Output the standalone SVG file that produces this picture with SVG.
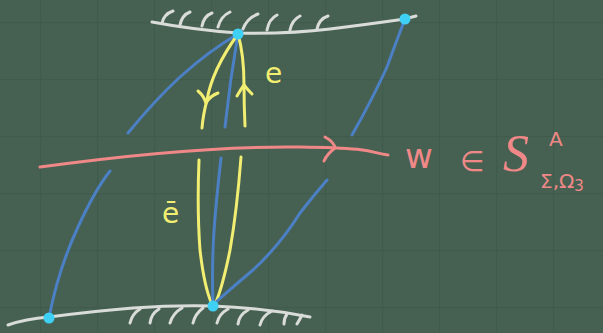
<svg xmlns="http://www.w3.org/2000/svg" width="603" height="333" viewBox="0 0 603 333">
<defs>
<pattern id="grid" x="40" y="22" width="57" height="57" patternUnits="userSpaceOnUse">
<path d="M0,0 V57 M0,0 H57" stroke="#405a4c" stroke-width="2.5" fill="none"/>
</pattern>
<style>
.gnd{fill:none;stroke:#d9dcd8;stroke-width:3;stroke-linecap:round;stroke-linejoin:round}
.blue{fill:none;stroke:#4c80c4;stroke-width:3;stroke-linecap:round;stroke-linejoin:round}
.yel{fill:none;stroke:#f2ee72;stroke-width:3;stroke-linecap:round;stroke-linejoin:round}
.pink{fill:none;stroke:#f08888;stroke-width:3;stroke-linecap:round;stroke-linejoin:round}
.node{fill:#3fd0f6}
.ty{fill:#f2ee72;font-family:"DejaVu Sans",sans-serif}
.tp{fill:#f08888;font-family:"DejaVu Sans",sans-serif}
</style>
</defs>
<rect width="603" height="333" fill="#466152"/>
<rect width="603" height="333" fill="url(#grid)"/>

<g id="top-wall">
<path class="gnd" d="M152,22 Q195,30 238,33 Q290,34 330,29 Q370,24 405,19 Q412,17 416,16"/>
<path class="gnd" d="M162,23 Q164,14 173,11 M180,25 Q182,15 190,12 M202,26 Q204,16 212,13 M218,27 Q221,16 230,12 M243,29 Q247,18 258,14 M267,30 Q269,19 277,15 M290,30 Q292,20 300,16 M317,29 Q319,19 328,16"/>
</g>

<g id="bottom-wall">
<path class="gnd" d="M8,325 Q25,319 49,317 Q95,311 133,308 Q175,305 213,306 Q265,308 310,317"/>
<path class="gnd" d="M140,309 Q132,314 130,323 M159,309 Q151,314 150,323 M182,308 Q173,313 170,323 M203,308 Q195,314 193,323 M228,309 Q219,314 217,323 M248,310 Q239,315 238,324 M272,311 Q262,316 260,325 M287,314 Q284,318 284,324 M302,315 Q300,319 297,324"/>
</g>

<g id="connectors">
<path class="blue" d="M238,34 Q210,50 180,77 Q155,100 128,133"/>
<path class="blue" d="M238,34 Q230,80 225,127"/>
<path class="blue" d="M405,19 Q395,45 387,67 Q372,100 352,135"/>
<path class="yel" d="M238,34 Q212,70 207,100 Q203,115 202,128"/>
<path class="yel" d="M198,91 Q204,96 206,103 Q210,96 218,93"/>
<path class="yel" d="M238,34 Q244,55 244,85 Q244,105 245,126"/>
<path class="yel" d="M237,96 Q241,89 244,85 Q248,90 252,94"/>
<path class="pink" d="M40,167 C120,156 220,146 300,147 S370,153 388,155"/>
<path class="pink" d="M325,137 Q334,142 335,148 Q327,154 324,161"/>
<path class="blue" d="M49,318 Q58,270 78,227 Q95,190 110,171"/>
<path class="yel" d="M199,160 Q197,210 200,250 Q204,285 211,302"/>
<path class="blue" d="M221,158 Q214,220 213,250 Q212,280 213,302"/>
<path class="yel" d="M241,157 Q237,210 230,250 Q223,285 216,302"/>
<path class="blue" d="M216,302 Q235,285 253,270 Q280,245 300,213 Q314,195 327,180"/>
</g>

<g id="node-top"><circle class="node" cx="238" cy="34" r="5.5"/></g>
<g id="node-top-right"><circle class="node" cx="405" cy="19" r="5.5"/></g>
<g id="node-bottom-left"><circle class="node" cx="49" cy="318" r="5.5"/></g>
<g id="node-bottom"><circle class="node" cx="213" cy="306" r="5.5"/></g>

<g id="labels">
<text class="ty" x="265" y="83" font-size="28">e</text>
<text class="ty" x="162" y="223" font-size="28">ē</text>
<text class="tp" x="405" y="168" font-size="34">w</text>
<text class="tp" x="460" y="171" font-size="28">∈</text>
<text class="tp" x="503" y="171" font-size="52" font-style="italic" style="font-family:'Liberation Serif',serif">S</text>
<text class="tp" x="549" y="146" font-size="20">A</text>
<text class="tp" x="540" y="188" font-size="20">Σ,Ω<tspan font-size="15" dy="3">3</tspan></text>
</g>
</svg>
